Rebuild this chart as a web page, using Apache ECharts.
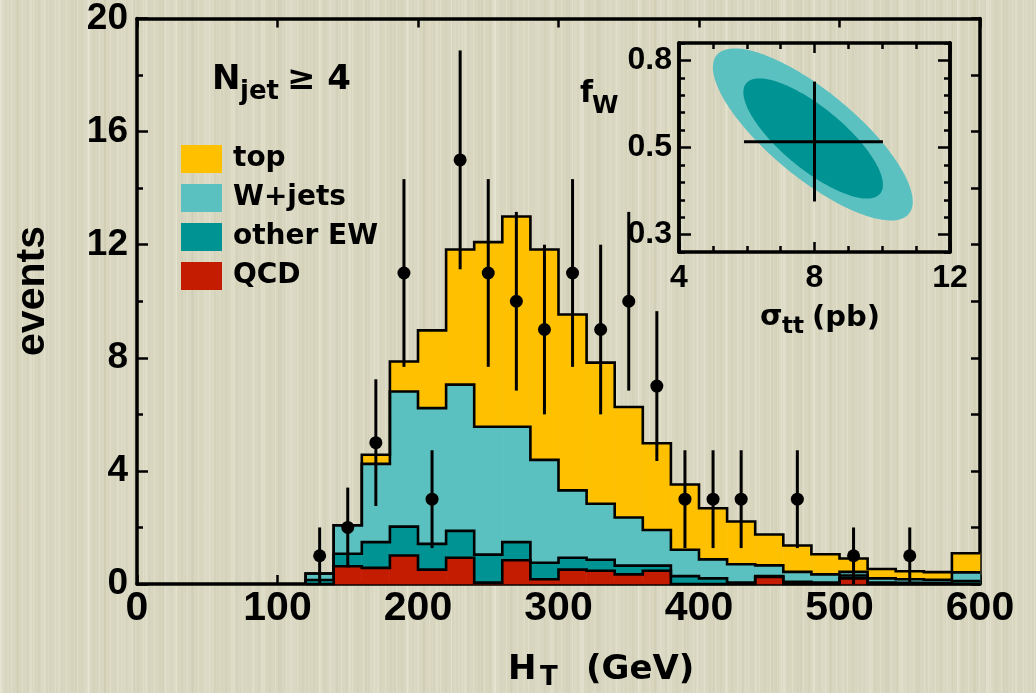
<!DOCTYPE html>
<html>
<head>
<meta charset="utf-8">
<script src="https://cdn.jsdelivr.net/npm/echarts@6/dist/echarts.min.js"></script>
<style>
  html, body { margin: 0; padding: 0; width: 1036px; height: 693px; overflow: hidden; }
  body {
    background-color: #d8d6bf;
    background-image:
      repeating-linear-gradient(90deg, rgba(255,255,245,0.20) 0px, rgba(255,255,245,0.20) 1px, rgba(0,0,0,0) 1px, rgba(0,0,0,0) 5px, rgba(150,140,100,0.05) 5px, rgba(150,140,100,0.05) 7px, rgba(0,0,0,0) 7px, rgba(0,0,0,0) 11px),
      repeating-linear-gradient(90deg, rgba(255,255,240,0.16) 0px, rgba(255,255,240,0.16) 3px, rgba(0,0,0,0) 3px, rgba(0,0,0,0) 17px, rgba(140,130,90,0.05) 17px, rgba(140,130,90,0.05) 19px, rgba(0,0,0,0) 19px, rgba(0,0,0,0) 29px),
      repeating-linear-gradient(90deg, rgba(255,255,255,0.08) 0px, rgba(255,255,255,0.08) 9px, rgba(0,0,0,0) 9px, rgba(0,0,0,0) 41px);
  }
  #chart { width: 1036px; height: 693px; }
</style>
</head>
<body>
<div id="chart"></div>
<script>
// H_T histogram bin edges (GeV)
const binEdges = [120, 140, 160, 180, 200, 220, 240, 260, 280, 300, 320, 340, 360,
                  380, 400, 420, 440, 460, 480, 500, 520, 540, 560, 580, 600];

// Expected events per bin, stacked bottom to top: QCD, other EW, W+jets, top
const qcd     = [0, 0.63, 0.57, 1.01, 0.51, 0.93, 0.05, 0.84, 0.17, 0.51, 0.47, 0.34,
                 0.47, 0, 0, 0, 0.25, 0, 0, 0.20, 0, 0, 0, 0];
const otherEW = [0.14, 0.44, 0.91, 1.02, 0.91, 0.95, 0.99, 0.64, 0.58, 0.42, 0.39, 0.31,
                 0.18, 0.28, 0.20, 0.05, 0.03, 0.08, 0.05, 0.10, 0.05, 0.04, 0.04, 0.10];
const wjets   = [0.23, 1.01, 2.77, 4.78, 4.80, 5.17, 4.52, 4.08, 3.64, 2.38, 1.98, 1.70,
                 1.26, 0.93, 0.67, 0.65, 0.38, 0.35, 0.29, 0.13, 0.15, 0.13, 0.11, 0.31];
const topQ    = [0, 0, 0.32, 1.06, 2.75, 4.78, 6.53, 7.44, 7.44, 6.22, 4.99, 3.91,
                 3.07, 2.31, 1.81, 1.51, 1.09, 0.93, 0.71, 0.47, 0.33, 0.28, 0.27, 0.68];

// Observed data: bin centres, counts and statistical errors
const dataHT  = [130, 150, 170, 190, 210, 230, 250, 270, 290, 310, 330, 350, 370, 390, 410, 430, 470, 510, 550];
const dataN   = [1, 2, 5, 11, 3, 15, 11, 10, 9, 11, 9, 10, 7, 3, 3, 3, 3, 1, 1];
const dataErr = [1.0, 1.41, 2.24, 3.32, 1.73, 3.87, 3.32, 3.16, 3.0, 3.32, 3.0, 3.16, 2.65, 1.73, 1.73, 1.73, 1.73, 1.0, 1.0];

// Inset: fit result in (sigma_tt, f_W)
const fitSigma = 8.0;
const fitF = 0.52;
const fitSigmaRange = [5.92, 10.02];
const fitFRange = [0.376, 0.727];

// Inset contours (outer, inner): centre, half-extent in sigma, half-extent in f-axis units, correlation
const contourSigma = [7.95, 7.96];
const contourF     = [0.545, 0.531];
const contourHalfSigma = [2.95, 2.06];
const contourHalfAxis  = [4.94, 3.45];
const contourRho       = [0.78, 0.77];
const contourColors    = ['#5bc0c0', '#009393'];

// f_W axis labels and their axis positions
const fLabelPos = [0, 5, 10];
const fLabels   = ['0.3', '0.5', '0.8'];

const componentNames  = ['QCD', 'other EW', 'W+jets', 'top'];
const componentColors = ['#c41c00', '#009393', '#5bc0c0', '#ffc000'];
const components = [qcd, otherEW, wjets, topQ];

// f_W is drawn on a piecewise axis: 0.3..0.5 and 0.5..0.8 each span five ticks
function fToAxis(f) {
  return f <= 0.5 ? (f - 0.3) / 0.04 : 5 + (f - 0.5) / 0.06;
}

// cumulative layer tops
const cumulative = [];
components.forEach((arr, k) => {
  cumulative.push(arr.map((v, i) => v + (k > 0 ? cumulative[k - 1][i] : 0)));
});

const TICK_FONT = '"Liberation Sans", Arial, sans-serif';
const TEXT_FONT = '"DejaVu Sans", sans-serif';

function fillSeries(k) {
  const data = components[k].map((v, i) => [
    binEdges[i], binEdges[i + 1],
    k > 0 ? cumulative[k - 1][i] : 0,
    cumulative[k][i]
  ]);
  return {
    name: componentNames[k],
    type: 'custom',
    xAxisIndex: 0, yAxisIndex: 0,
    itemStyle: { color: componentColors[k] },
    encode: { x: [0, 1], y: [2, 3] },
    z: 1,
    silent: true,
    data: data,
    renderItem: function (params, api) {
      const a = api.coord([api.value(0), api.value(3)]);
      const b = api.coord([api.value(1), api.value(2)]);
      return {
        type: 'rect',
        shape: { x: a[0], y: a[1], width: b[0] - a[0], height: b[1] - a[1] },
        style: { fill: componentColors[k], stroke: componentColors[k], lineWidth: 0.6 }
      };
    }
  };
}

const outlineSeries = {
  type: 'custom',
  xAxisIndex: 0, yAxisIndex: 0,
  z: 2,
  silent: true,
  data: cumulative.map((c, k) => [binEdges[0], 0, k]),
  renderItem: function (params, api) {
    const k = api.value(2);
    const tops = cumulative[k];
    const pts = [api.coord([binEdges[0], 0])];
    for (let i = 0; i < tops.length; i++) {
      pts.push(api.coord([binEdges[i], tops[i]]));
      pts.push(api.coord([binEdges[i + 1], tops[i]]));
    }
    return {
      type: 'polyline',
      shape: { points: pts },
      style: { stroke: '#000', lineWidth: 2.6, fill: null, lineJoin: 'miter' }
    };
  }
};

const errorSeries = {
  type: 'custom',
  xAxisIndex: 0, yAxisIndex: 0,
  z: 3,
  silent: true,
  data: dataHT.map((x, i) => [x, dataN[i] - dataErr[i], dataN[i] + dataErr[i]]),
  renderItem: function (params, api) {
    const lo = api.coord([api.value(0), api.value(1)]);
    const hi = api.coord([api.value(0), api.value(2)]);
    return {
      type: 'line',
      shape: { x1: lo[0], y1: lo[1], x2: hi[0], y2: hi[1] },
      style: { stroke: '#000', lineWidth: 3 }
    };
  }
};

const pointSeries = {
  type: 'scatter',
  xAxisIndex: 0, yAxisIndex: 0,
  z: 4,
  silent: true,
  symbol: 'circle',
  symbolSize: 13,
  itemStyle: { color: '#000', opacity: 1 },
  data: dataHT.map((x, i) => [x, dataN[i]])
};

const contourSeries = {
  type: 'custom',
  xAxisIndex: 2, yAxisIndex: 2,
  z: 1,
  silent: true,
  data: contourSigma.map((s, i) => [s, fToAxis(contourF[i]), i]),
  renderItem: function (params, api) {
    const i = api.value(2);
    const cs = api.value(0), ct = api.value(1);
    const A = contourHalfSigma[i], B = contourHalfAxis[i];
    const phi = Math.acos(contourRho[i]);
    const pts = [];
    for (let k = 0; k <= 180; k++) {
      const th = k / 180 * 2 * Math.PI;
      pts.push(api.coord([cs + A * Math.cos(th), ct - B * Math.cos(th - phi)]));
    }
    return { type: 'polygon', shape: { points: pts }, style: { fill: contourColors[i] } };
  }
};

const crossSeries = {
  type: 'custom',
  xAxisIndex: 2, yAxisIndex: 2,
  z: 3,
  silent: true,
  data: [
    [fitSigmaRange[0], fToAxis(fitF), fitSigmaRange[1], fToAxis(fitF)],
    [fitSigma, fToAxis(fitFRange[0]), fitSigma, fToAxis(fitFRange[1])]
  ],
  renderItem: function (params, api) {
    const a = api.coord([api.value(0), api.value(1)]);
    const b = api.coord([api.value(2), api.value(3)]);
    return {
      type: 'line',
      shape: { x1: a[0], y1: a[1], x2: b[0], y2: b[1] },
      style: { stroke: '#000', lineWidth: 3 }
    };
  }
};

const blackLine = (w) => ({ show: true, onZero: false, lineStyle: { color: '#000', width: w } });
const tick = (len, w) => ({ show: true, inside: true, length: len, lineStyle: { color: '#000', width: w } });
const noLabel = { show: false };
const noSplit = { show: false };

const option = {
  backgroundColor: 'transparent',
  animation: false,
  grid: [
    { left: 137, top: 12, width: 843, height: 572 },
    { left: 679, top: 43, width: 271, height: 209 }
  ],
  xAxis: [
    { gridIndex: 0, type: 'value', min: 0, max: 600, interval: 100, position: 'bottom',
      axisLine: blackLine(3.5), axisTick: tick(9, 2.5), splitLine: noSplit,
      axisLabel: { fontSize: 41, fontWeight: 'bold', fontFamily: TICK_FONT, color: '#000', margin: 4 } },
    { gridIndex: 0, type: 'value', min: 0, max: 600, interval: 100, position: 'top',
      axisLine: blackLine(3.5), axisTick: tick(9, 2.5), splitLine: noSplit, axisLabel: noLabel },
    { gridIndex: 1, type: 'value', min: 4, max: 12, interval: 4, position: 'bottom',
      axisLine: blackLine(3.5), axisTick: tick(10, 2.5),
      minorTick: { show: true, splitNumber: 4, length: 6, lineStyle: { color: '#000', width: 2.5 } },
      splitLine: noSplit, minorSplitLine: noSplit,
      axisLabel: { fontSize: 32, fontWeight: 'bold', fontFamily: TICK_FONT, color: '#000', margin: 10 } },
    { gridIndex: 1, type: 'value', min: 4, max: 12, interval: 4, position: 'top',
      axisLine: blackLine(3.5), axisTick: tick(10, 2.5),
      minorTick: { show: true, splitNumber: 4, length: 6, lineStyle: { color: '#000', width: 2.5 } },
      splitLine: noSplit, minorSplitLine: noSplit, axisLabel: noLabel }
  ],
  yAxis: [
    { gridIndex: 0, type: 'value', min: 0, max: 20, interval: 4, position: 'left',
      axisLine: blackLine(3.5), axisTick: tick(11, 2.5),
      minorTick: { show: true, splitNumber: 2, length: 6, lineStyle: { color: '#000', width: 2.5 } },
      splitLine: noSplit, minorSplitLine: noSplit,
      axisLabel: { fontSize: 37, fontWeight: 'bold', fontFamily: TICK_FONT, color: '#000', margin: 9 } },
    { gridIndex: 0, type: 'value', min: 0, max: 20, interval: 2, position: 'right',
      axisLine: blackLine(3.5), axisTick: tick(9, 2.5), splitLine: noSplit, axisLabel: noLabel },
    { gridIndex: 1, type: 'value', min: -1, max: 11, interval: 1, position: 'left',
      axisLine: blackLine(3.5), axisTick: tick(6, 2.5), splitLine: noSplit,
      axisLabel: { fontSize: 32, fontWeight: 'bold', fontFamily: TICK_FONT, color: '#000', margin: 7,
        formatter: function (v) { const j = fLabelPos.indexOf(Math.round(v)); return j >= 0 ? fLabels[j] : ''; } } },
    { gridIndex: 1, type: 'value', min: -1, max: 11, interval: 1, position: 'left',
      axisLine: blackLine(3.5),
      axisTick: { show: true, inside: true, length: 12, customValues: fLabelPos, lineStyle: { color: '#000', width: 2.5 } },
      splitLine: noSplit, axisLabel: noLabel },
    { gridIndex: 1, type: 'value', min: -1, max: 11, interval: 1, position: 'right',
      axisLine: blackLine(3.5), axisTick: tick(6, 2.5), splitLine: noSplit, axisLabel: noLabel },
    { gridIndex: 1, type: 'value', min: -1, max: 11, interval: 1, position: 'right',
      axisLine: blackLine(3.5),
      axisTick: { show: true, inside: true, length: 12, customValues: fLabelPos, lineStyle: { color: '#000', width: 2.5 } },
      splitLine: noSplit, axisLabel: noLabel }
  ],
  legend: {
    orient: 'vertical',
    left: 181, top: 145,
    itemWidth: 41, itemHeight: 28, itemGap: 11,
    icon: 'rect',
    selectedMode: false,
    padding: 0,
    data: ['top', 'W+jets', 'other EW', 'QCD'],
    textStyle: { fontSize: 28, fontWeight: 'bold', fontFamily: TEXT_FONT, color: '#000', lineHeight: 28, padding: [0, 0, 0, 6] }
  },
  graphic: [
    { type: 'text', x: 212, y: 80, style: { text: 'N', font: 'bold 34px ' + TEXT_FONT, fill: '#000', verticalAlign: 'middle' } },
    { type: 'text', x: 240, y: 92, style: { text: 'jet', font: 'bold 26px ' + TEXT_FONT, fill: '#000', verticalAlign: 'middle' } },
    { type: 'text', x: 287, y: 80, style: { text: '≥ 4', font: 'bold 34px ' + TEXT_FONT, fill: '#000', verticalAlign: 'middle' } },

    { type: 'text', x: 33, y: 291, rotation: Math.PI / 2,
      style: { text: 'events', font: 'bold 41px ' + TICK_FONT, fill: '#000', align: 'center', verticalAlign: 'middle' } },

    { type: 'text', x: 508, y: 670, style: { text: 'H', font: 'bold 34px ' + TEXT_FONT, fill: '#000', verticalAlign: 'middle' } },
    { type: 'text', x: 540, y: 678, style: { text: 'T', font: 'bold 26px ' + TEXT_FONT, fill: '#000', verticalAlign: 'middle' } },
    { type: 'text', x: 586, y: 670, style: { text: '(GeV)', font: 'bold 34px ' + TEXT_FONT, fill: '#000', verticalAlign: 'middle' } },

    { type: 'text', x: 580, y: 94, style: { text: 'f', font: 'bold 30px ' + TEXT_FONT, fill: '#000', verticalAlign: 'middle' } },
    { type: 'text', x: 592, y: 107, style: { text: 'W', font: 'bold 24px ' + TEXT_FONT, fill: '#000', verticalAlign: 'middle' } },

    { type: 'text', x: 760, y: 317, style: { text: 'σ', font: 'bold 29px ' + TEXT_FONT, fill: '#000', verticalAlign: 'middle' } },
    { type: 'text', x: 782, y: 327, style: { text: 'tt', font: 'bold 23px ' + TEXT_FONT, fill: '#000', verticalAlign: 'middle' } },
    { type: 'text', x: 812, y: 318, style: { text: '(pb)', font: 'bold 29px ' + TEXT_FONT, fill: '#000', verticalAlign: 'middle' } }
  ],
  series: [
    fillSeries(0), fillSeries(1), fillSeries(2), fillSeries(3),
    outlineSeries, errorSeries, pointSeries,
    contourSeries, crossSeries
  ]
};

const chart = echarts.init(document.getElementById('chart'), null, { renderer: 'canvas' });
chart.setOption(option);
</script>
</body>
</html>
